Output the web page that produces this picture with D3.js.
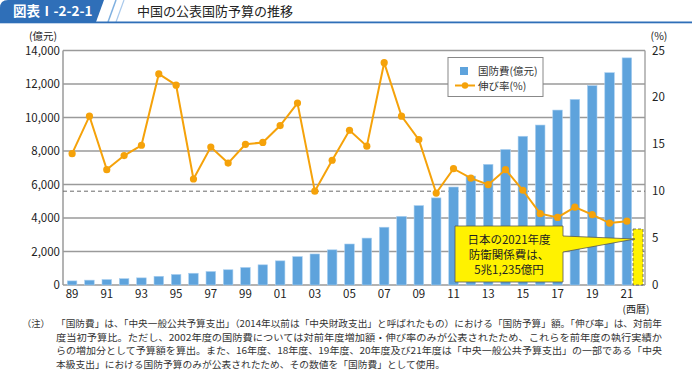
<!DOCTYPE html>
<html><head><meta charset="utf-8">
<script src="https://cdn.jsdelivr.net/npm/d3@7"></script>
<style>
html,body{margin:0;padding:0;background:#fff;}
svg{display:block;font-family:"Noto Sans CJK JP","Noto Sans",sans-serif;}
</style></head>
<body><svg id="c" width="692" height="372"></svg>
<script>
// ---- data ----
const years = ["89","90","91","92","93","94","95","96","97","98","99","00","01","02","03","04","05","06","07","08","09","10","11","12","13","14","15","16","17","18","19","20","21"];
const budget = [245,290,325,378,426,520,630,702,806,910,1047,1205,1442,1694,1853,2100,2448,2800,3450,4099,4740,5200,5850,6503,7202,8090,8880,9550,10444,11080,11899,12675,13560];
const growth = [14.0,18.0,12.3,13.8,14.9,22.5,21.3,11.3,14.7,13.0,15.0,15.2,17.0,19.4,10.0,13.3,16.5,14.8,23.7,18.0,15.5,9.8,12.4,11.4,10.7,12.3,10.1,7.6,7.2,8.3,7.5,6.6,6.8];
const xTickLabels = ["89","91","93","95","97","99","01","03","05","07","09","11","13","15","17","19","21"];
const leftTicks = [0,2000,4000,6000,8000,10000,12000,14000];
const rightTicks = [0,5,10,15,20,25];
const japanValue = [3343];
const refGrowth = [10];
const legendLabels = ["国防費(億元)","伸び率(%)"];
const calloutLines = ["日本の2021年度","防衛関係費は、","5兆1,235億円"];
const noteLines = [
 "「国防費」は、「中央一般公共予算支出」（2014年以前は「中央財政支出」と呼ばれたもの）における「国防予算」額。「伸び率」は、対前年",
 "度当初予算比。ただし、2002年度の国防費については対前年度増加額・伸び率のみが公表されたため、これらを前年度の執行実績か",
 "らの増加分として予算額を算出。また、16年度、18年度、19年度、20年度及び21年度は「中央一般公共予算支出」の一部である「中央",
 "本級支出」における国防予算のみが公表されたため、その数値を「国防費」として使用。"
];

const svg = d3.select("#c");
const L = 63, R = 645, T = 50.5, B = 285;
const barBlue = "#5ea3dc", orange = "#f5a20a", grid = "#9a9a9a";

// ---- header ----
const hdr = svg.append("g");
hdr.append("path").attr("d","M0,22 L0,8 Q0,0 8,0 L104,0 L96,22 Z").attr("fill","#2f6fb8");
hdr.append("line").attr("x1",108).attr("y1",22).attr("x2",116).attr("y2",0).attr("stroke","#7fb0e0").attr("stroke-width",1.5);
hdr.append("line").attr("x1",116).attr("y1",22).attr("x2",124).attr("y2",0).attr("stroke","#a9c9ec").attr("stroke-width",1.2);
hdr.append("rect").attr("x",0).attr("y",21.5).attr("width",692).attr("height",1.8).attr("fill","#2f6fb8");
hdr.append("text").attr("x",13).attr("y",16).attr("fill","#fff").attr("font-size",13.5).attr("font-weight","bold").text("図表Ⅰ-2-2-1");
hdr.append("text").attr("x",137).attr("y",16).attr("fill","#222").attr("font-size",13).text("中国の公表国防予算の推移");

// ---- scales ----
const x = d3.scaleBand().domain(years).range([L, 636]).paddingInner(0.45).paddingOuter(0.25);
const yL = d3.scaleLinear().domain([0,14000]).range([B,T]);
const yR = d3.scaleLinear().domain([0,25]).range([B,T]);

// gridlines
svg.append("g").selectAll("line").data(leftTicks).join("line")
  .attr("x1",L).attr("x2",R).attr("y1",d=>yL(d)).attr("y2",d=>yL(d))
  .attr("stroke",grid).attr("stroke-width",1.3);
svg.append("line").attr("x1",R).attr("x2",R).attr("y1",T).attr("y2",B).attr("stroke",grid).attr("stroke-width",1.3);
svg.append("line").attr("x1",L).attr("x2",L).attr("y1",T).attr("y2",B).attr("stroke",grid).attr("stroke-width",1.5);

// reference dashed
svg.append("g").selectAll("line").data(refGrowth).join("line")
  .attr("x1",L).attr("x2",R).attr("y1",d=>yR(d)).attr("y2",d=>yR(d))
  .attr("stroke","#6a6a6a").attr("stroke-width",1).attr("stroke-dasharray","4,3");

// bars
svg.append("g").selectAll("rect").data(budget).join("rect")
  .attr("x",(d,i)=>x(years[i])).attr("width",x.bandwidth())
  .attr("y",d=>yL(d)).attr("height",d=>B-yL(d))
  .attr("fill",barBlue).attr("stroke","#a9cff0").attr("stroke-width",0.6);

// japan bar
svg.append("g").selectAll("rect").data(japanValue).join("rect")
  .attr("x",x.range()[1]-3).attr("width",10)
  .attr("y",d=>yL(d)).attr("height",d=>B-yL(d))
  .attr("fill","#fff200").attr("stroke","#555").attr("stroke-width",0.8).attr("stroke-dasharray","3,2");

// line
const line = d3.line().x((d,i)=>x(years[i])+x.bandwidth()/2).y(d=>yR(d));
svg.append("path").datum(growth).attr("d",line).attr("fill","none").attr("stroke",orange).attr("stroke-width",2);
svg.append("g").selectAll("circle").data(growth).join("circle")
  .attr("cx",(d,i)=>x(years[i])+x.bandwidth()/2).attr("cy",d=>yR(d)).attr("r",3.6).attr("fill",orange);

// axes labels
const fmt = d3.format(",");
svg.append("g").selectAll("text").data(leftTicks).join("text")
  .attr("x",60).attr("y",d=>yL(d)+4).attr("text-anchor","end").attr("font-size",11.5).attr("fill","#222").text(d=>fmt(d));
svg.append("g").selectAll("text").data(rightTicks).join("text")
  .attr("x",652).attr("y",d=>yR(d)+4).attr("text-anchor","start").attr("font-size",11.5).attr("fill","#222").text(d=>d);
svg.append("g").selectAll("text").data(xTickLabels).join("text")
  .attr("x",d=>x(d)+x.bandwidth()/2).attr("y",298).attr("text-anchor","middle").attr("font-size",11.5).attr("fill","#222").text(d=>d);
svg.append("text").attr("x",43).attr("y",40).attr("text-anchor","middle").attr("font-size",10.5).attr("fill","#222").text("(億元)");
svg.append("text").attr("x",659).attr("y",40).attr("text-anchor","middle").attr("font-size",10.5).attr("fill","#222").text("(%)");
svg.append("text").attr("x",636).attr("y",313).attr("text-anchor","middle").attr("font-size",10).attr("fill","#222").text("(西暦)");

// legend
const lg = svg.append("g");
lg.append("rect").attr("x",448).attr("y",57.5).attr("width",95).attr("height",39).attr("fill","#fff").attr("stroke","#888").attr("stroke-width",1);
lg.append("rect").attr("x",460).attr("y",67).attr("width",8).attr("height",8).attr("fill",barBlue);
lg.append("line").attr("x1",455).attr("x2",475).attr("y1",85.5).attr("y2",85.5).attr("stroke",orange).attr("stroke-width",2);
lg.append("circle").attr("cx",465).attr("cy",85.5).attr("r",3.2).attr("fill",orange);
lg.selectAll("text.l").data(legendLabels).join("text").attr("class","l")
  .attr("x",478).attr("y",(d,i)=>75+i*14.5).attr("font-size",10.5).attr("fill","#333").text(d=>d);

// callout
const tipX = x.range()[1]-1, tipY = yL(japanValue[0])+10;
const co = svg.append("g");
co.append("path").attr("d",`M455,226 L563,226 L563,236 L${tipX},${tipY} L563,252 L563,282 L455,282 Z`)
  .attr("fill","#fff200").attr("stroke","#555").attr("stroke-width",0.8);
co.selectAll("text").data(calloutLines).join("text")
  .attr("x",509).attr("y",(d,i)=>244+i*15).attr("text-anchor","middle").attr("font-size",11.5).attr("fill","#222").text(d=>d);

// notes
const noteLen = [606,606,606,389];
svg.append("text").attr("x",22).attr("y",327).attr("font-size",9.3).attr("fill","#333").text("（注）");
svg.append("g").selectAll("text").data(noteLines).join("text")
  .attr("x",56).attr("y",(d,i)=>327+i*13.5).attr("font-size",9.3).attr("fill","#333")
  .attr("textLength",(d,i)=>noteLen[i]).attr("lengthAdjust","spacingAndGlyphs")
  .text(d=>d);
</script></body></html>
